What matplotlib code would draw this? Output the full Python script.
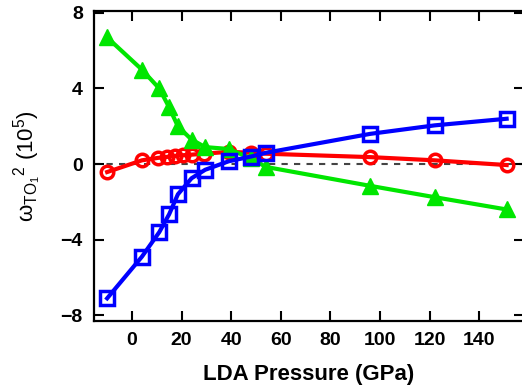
import matplotlib
matplotlib.use("Agg")
import matplotlib.pyplot as plt

# Data
red_x = [-10, 4, 10.5, 14, 17.5, 20.5, 24, 29, 39, 48, 54, 96, 122, 151]
red_y = [-0.42, 0.2, 0.33, 0.38, 0.43, 0.47, 0.5, 0.55, 0.65, 0.6, 0.55, 0.37, 0.2, -0.05]

green_x = [-10, 4, 11, 15, 18.5, 24, 29.5, 39, 48, 54, 96, 122, 151]
green_y = [6.7, 5.0, 4.0, 3.0, 2.0, 1.3, 0.9, 0.8, 0.3, -0.15, -1.15, -1.75, -2.4]

blue_x = [-10, 4, 11, 15, 18.5, 24, 29.5, 39, 48, 54, 96, 122, 151]
blue_y = [-7.1, -4.9, -3.6, -2.65, -1.6, -0.75, -0.3, 0.15, 0.4, 0.6, 1.6, 2.05, 2.4]

x_ticks = [0, 20, 40, 60, 80, 100, 120, 140]
y_ticks = [-8, -4, 0, 4, 8]

plt.rcParams['font.family'] = ['Liberation Sans', 'DejaVu Sans']
plt.rcParams['mathtext.fontset'] = 'custom'
plt.rcParams['mathtext.rm'] = 'Liberation Sans'
plt.rcParams['mathtext.it'] = 'Liberation Sans'

fig = plt.figure(figsize=(5.22, 3.91), dpi=100)
ax = fig.add_axes([94/522, 1-321/391, (524-94)/522, (321-11)/391])

ax.axhline(0, color='#444444', lw=1.5, ls=(0, (3, 3)), zorder=1)

ax.plot(red_x, red_y, color='#ff0000', lw=3, marker='o', ms=9,
        mfc='none', mew=2.5, zorder=3)
ax.plot(green_x, green_y, color='#00e600', lw=3, marker='^', ms=12,
        mfc='#00e600', mec='#00e600', zorder=4)
ax.plot(blue_x, blue_y, color='#0000ff', lw=3, marker='s', ms=10,
        mfc='none', mew=2.5, zorder=5)

ax.set_xlim(-15.3, 158)
ax.set_ylim(-8.3, 8.1)
ax.set_xticks(x_ticks)
ax.set_yticks(y_ticks)
ax.tick_params(direction='in', top=True, right=True, length=7, width=1.5,
               labelsize=14, pad=8)
for lab in ax.get_xticklabels() + ax.get_yticklabels():
    lab.set_fontweight('bold')
for s in ax.spines.values():
    s.set_linewidth(1.6)

ax.set_xlabel('LDA Pressure (GPa)', fontsize=16, fontweight='bold', labelpad=11)
ax.set_ylabel(r'ω$_{\mathrm{TO}_1}{}^{2}$ (10$^{5}$)', fontsize=16, labelpad=12)

fig.savefig('out.png', dpi=100)
